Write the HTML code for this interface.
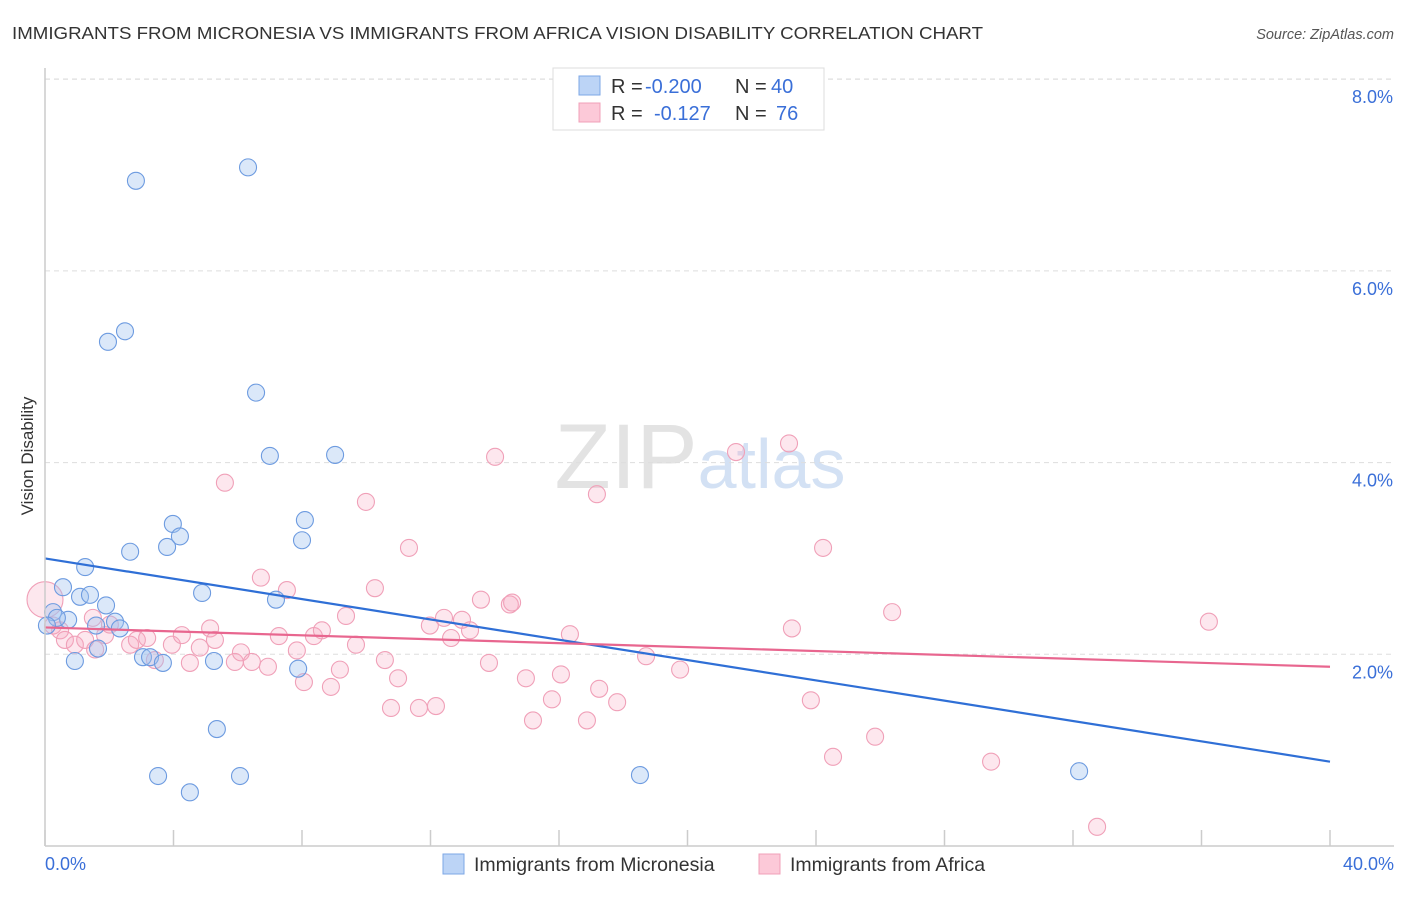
<!DOCTYPE html>
<html><head><meta charset="utf-8"><style>
body{margin:0;background:#fff;font-family:"Liberation Sans",sans-serif;}
svg text{font-family:"Liberation Sans",sans-serif;}
</style></head><body>
<svg width="1406" height="892" xmlns="http://www.w3.org/2000/svg" id="chart">
<text x="12" y="39" font-size="17.5" fill="#333" textLength="971" lengthAdjust="spacingAndGlyphs">IMMIGRANTS FROM MICRONESIA VS IMMIGRANTS FROM AFRICA VISION DISABILITY CORRELATION CHART</text>
<text x="1394" y="39" font-size="14.5" fill="#555" text-anchor="end" font-style="italic">Source: ZipAtlas.com</text>
<text x="700" y="488" font-size="92" text-anchor="middle" font-family="Liberation Serif" fill="#e3e3e3">ZIP<tspan fill="#d3e1f4" font-family="Liberation Sans" font-size="70">atlas</tspan></text>
<text transform="translate(33,456) rotate(-90)" font-size="17" fill="#333" text-anchor="middle">Vision Disability</text>
<g id="grid"></g><g id="ticks"></g><g id="pts"></g><g id="lines"></g>
<line x1="45" y1="68" x2="45" y2="846" stroke="#ccc" stroke-width="1.5"/>
<line x1="45" y1="846" x2="1394" y2="846" stroke="#ccc" stroke-width="1.5"/>
<text x="45" y="870" font-size="18" fill="#3a6fd8">0.0%</text>
<text x="1394" y="870" font-size="18" fill="#3a6fd8" text-anchor="end">40.0%</text>
<g>
<rect x="553" y="68" width="271" height="62" fill="#fff" stroke="#ddd"/>
<rect x="579" y="76" width="21" height="19" fill="#bcd4f6" stroke="#7da7e6"/>
<rect x="579" y="103" width="21" height="19" fill="#fcc9d8" stroke="#f0a0b8"/>
<text x="611" y="93" font-size="20" fill="#333">R =</text>
<text x="645" y="93" font-size="20" fill="#3a6fd8">-0.200</text>
<text x="735" y="93" font-size="20" fill="#333">N =</text>
<text x="771" y="93" font-size="20" fill="#3a6fd8">40</text>
<text x="611" y="120" font-size="20" fill="#333">R =</text>
<text x="654" y="120" font-size="20" fill="#3a6fd8">-0.127</text>
<text x="735" y="120" font-size="20" fill="#333">N =</text>
<text x="776" y="120" font-size="20" fill="#3a6fd8">76</text>
</g>
<g><rect x="443" y="854" width="21" height="20" fill="#bcd4f6" stroke="#7da7e6"/><text x="474" y="871" font-size="19.5" fill="#333">Immigrants from Micronesia</text></g>
<g><rect x="759" y="854" width="21" height="20" fill="#fcc9d8" stroke="#f0a0b8"/><text x="790" y="871" font-size="19.5" fill="#333">Immigrants from Africa</text></g>
</svg>
<script>
const yTicks=[2,4,6,8];
const yTickLabels=["2.0%","4.0%","6.0%","8.0%"];
const xTicks=[0,4,8,12,16,20,24,28,32,36,40];
const blueX=[2.83,6.32,2.49,1.96,6.57,7.00,9.03,3.98,8.09,4.20,3.80,8.00,2.65,1.25,0.56,1.09,1.40,4.89,7.19,1.90,0.25,0.72,0.37,1.59,2.18,2.33,0.06,1.65,0.93,3.05,3.27,3.67,5.26,7.88,5.35,3.52,6.07,4.51,18.52,32.19];
const blueY=[6.94,7.08,5.37,5.26,4.73,4.07,4.08,3.36,3.40,3.23,3.12,3.19,3.07,2.91,2.70,2.60,2.62,2.64,2.57,2.51,2.44,2.36,2.38,2.30,2.34,2.27,2.30,2.06,1.93,1.97,1.97,1.91,1.93,1.85,1.22,0.73,0.73,0.56,0.74,0.78];
const pinkX=[0,0.25,0.47,0.62,0.93,1.25,1.56,1.87,2.02,2.65,2.86,3.18,3.42,3.95,4.26,4.51,4.82,5.14,5.29,5.60,5.91,6.10,6.44,6.72,6.94,7.28,7.53,7.84,8.06,8.37,8.62,8.90,9.18,9.37,9.68,9.99,10.27,10.58,10.99,10.77,11.33,11.64,11.98,12.17,12.42,12.64,12.98,13.23,13.57,13.82,14.01,14.47,14.54,14.97,15.19,15.78,16.06,16.34,16.87,17.18,17.25,17.81,18.71,19.77,21.51,23.16,23.25,23.84,24.22,24.53,25.84,26.37,29.45,32.75,36.23,1.49];
const pinkY=[2.57,2.30,2.25,2.15,2.10,2.15,2.05,2.20,2.31,2.10,2.15,2.17,1.94,2.10,2.20,1.91,2.07,2.27,2.15,3.79,1.92,2.02,1.92,2.80,1.87,2.19,2.67,2.04,1.71,2.19,2.25,1.66,1.84,2.40,2.10,3.59,2.69,1.94,1.75,1.44,3.11,1.44,2.30,1.46,2.38,2.17,2.36,2.25,2.57,1.91,4.06,2.52,2.54,1.75,1.31,1.53,1.79,2.21,1.31,3.67,1.64,1.50,1.98,1.84,4.11,4.20,2.27,1.52,3.11,0.93,1.14,2.44,0.88,0.20,2.34,2.38];
const blueTrend=[3.00,0.88];
const pinkTrend=[2.28,1.87];
const NS="http://www.w3.org/2000/svg";
const sx=v=>45+v/40*1285;
const sy=v=>846-v*95.85;
function mk(tag,attrs,parent){const e=document.createElementNS(NS,tag);for(const k in attrs)e.setAttribute(k,attrs[k]);document.getElementById(parent).appendChild(e);return e;}
yTicks.forEach((t,i)=>{
 const g=mk('line',{x1:45,x2:1394,y1:sy(t),y2:sy(t),stroke:'#ddd','stroke-dasharray':'5,4'},'grid');
 
 
 const tx=mk('text',{x:1393,y:sy(t)+24,'font-size':18,fill:'#3a6fd8','text-anchor':'end'},'grid');
 tx.textContent=yTickLabels[i];
 
 
});
mk('line',{x1:45,x2:1394,y1:79,y2:79,stroke:'#ddd','stroke-dasharray':'5,4'},'grid');
xTicks.forEach(t=>{
 const l=mk('line',{x1:sx(t),x2:sx(t),y1:830,y2:846,stroke:'#ccc','stroke-width':1.5},'ticks');
 
 
});
pinkX.forEach((x,i)=>{
 const c=mk('circle',{cx:sx(x),cy:sy(pinkY[i]),r:i===0?18:8.5,fill:'rgba(248,170,195,0.28)',stroke:'#f0a0b8','stroke-width':1.1},'pts');
 
 
});
blueX.forEach((x,i)=>{
 const c=mk('circle',{cx:sx(x),cy:sy(blueY[i]),r:8.5,fill:'rgba(160,195,240,0.38)',stroke:'#6d9be0','stroke-width':1.1},'pts');
 
 
});
const bl=mk('line',{x1:sx(0),y1:sy(blueTrend[0]),x2:sx(40),y2:sy(blueTrend[1]),stroke:'#2f6fd6','stroke-width':2.2},'lines');


const pl=mk('line',{x1:sx(0),y1:sy(pinkTrend[0]),x2:sx(40),y2:sy(pinkTrend[1]),stroke:'#e8668f','stroke-width':2.2},'lines');


</script>
</body></html>
